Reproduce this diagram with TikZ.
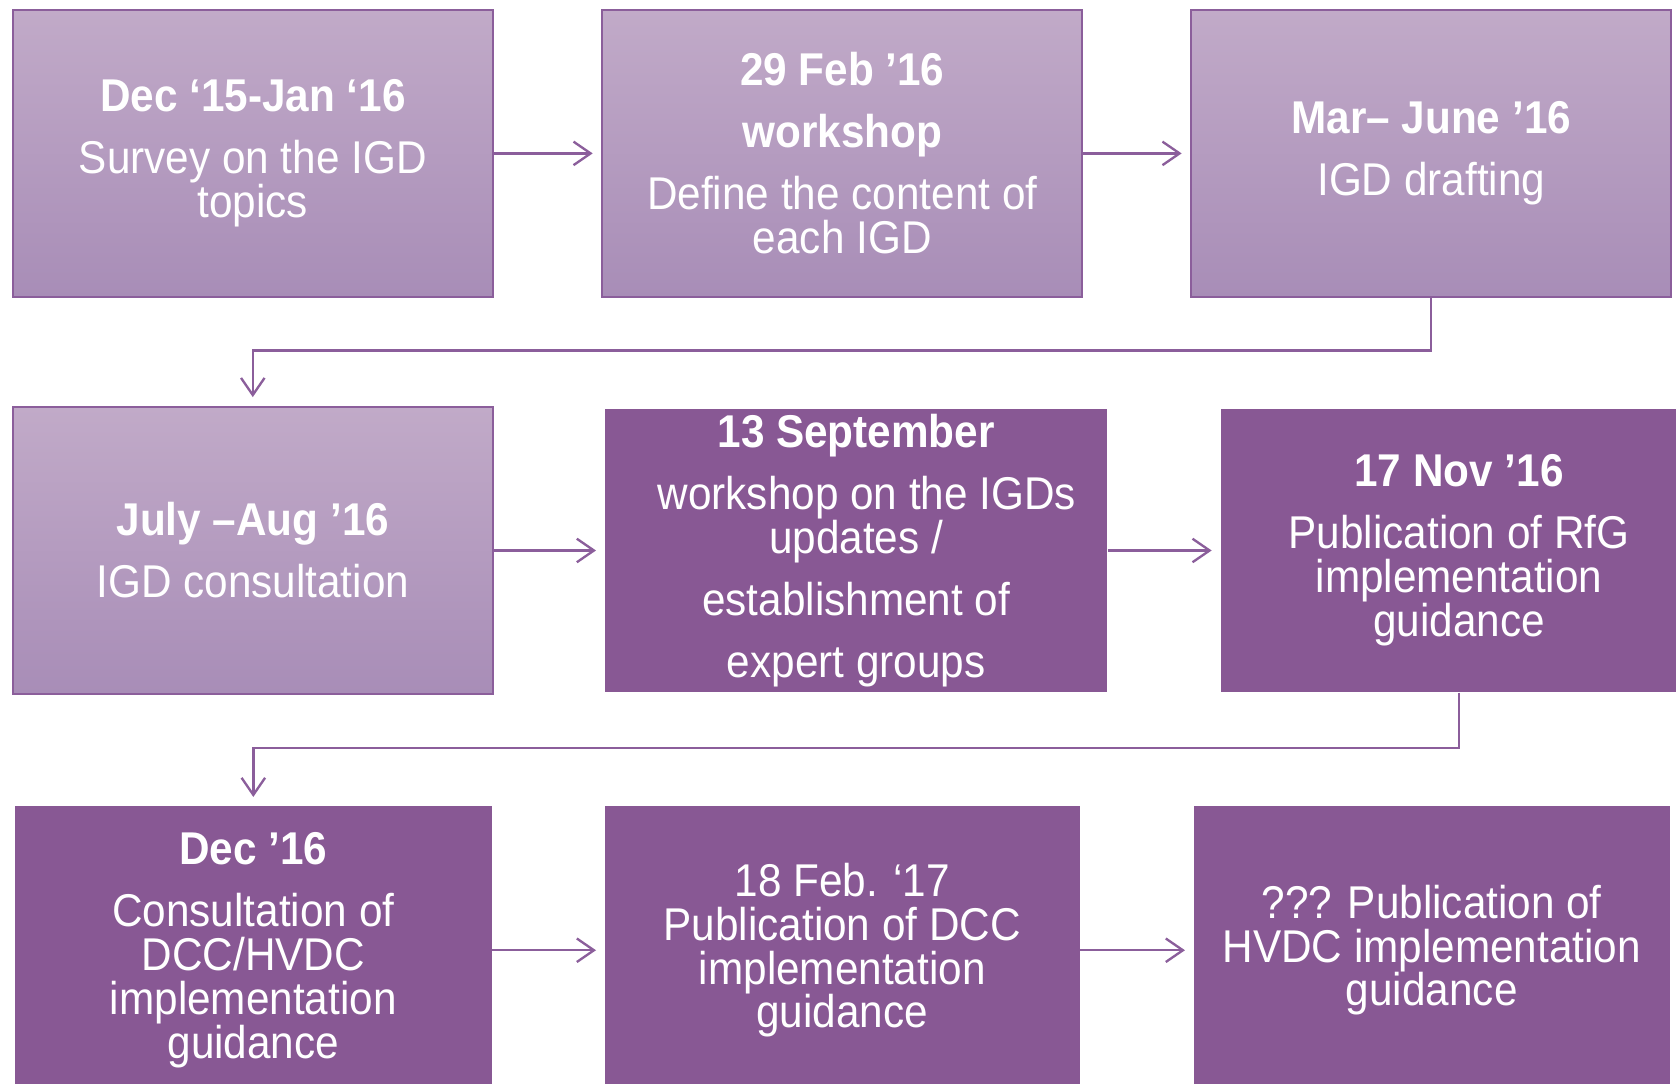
\documentclass[tikz,border=0pt]{standalone}
\usepackage{fontspec}
\setmainfont{Liberation Sans}[FakeStretch=0.92]
\usetikzlibrary{arrows.meta}
\definecolor{plum}{RGB}{136,88,148}
\definecolor{plumtop}{RGB}{193,170,200}
\definecolor{plumbot}{RGB}{168,141,183}
\definecolor{plumline}{RGB}{139,94,155}
\begin{document}
\begin{tikzpicture}[x=.5pt,y=-.5pt,
	box/.style={inner sep=0pt,align=center,text=white,font=\fontsize{21.5}{20.5}\selectfont},
	litebox/.style={box,draw=plumline,line width=1pt,top color=plumtop,bottom color=plumbot,minimum width=224.5pt,minimum height=134.5pt},
	darkbox/.style={box,fill=plum},
	link/.style={draw=plumline,line width=1.1pt,-{Straight Barb[length=8pt,width=11pt]},shorten >=4pt}]
			\useasboundingbox (0,0) rectangle (1568,1014);
			% first row
			\node[litebox] (b1) at (236.5,143.5) {\textbf{Dec ‘15-Jan ‘16}\\[8.5pt] Survey on the IGD\\topics};
			\node[litebox] (b2) at (788,143.5) {\textbf{29 Feb ’16}\\[8.5pt] \textbf{workshop}\\[8.5pt] Define the content of\\each IGD};
			\node[litebox] (b3) at (1339,143.5) {\textbf{Mar– June ’16}\\[8.5pt] IGD drafting};
			% second row
			\node[litebox] (b4) at (236.5,515) {\textbf{July –Aug ’16}\\[8.5pt] IGD consultation};
			\node[darkbox,minimum width=235pt,minimum height=132.5pt] (b5) at (801,515) {\textbf{13 September}\\[8.5pt] \hspace*{10pt}workshop on the IGDs\\updates /\\[8.5pt] establishment of\\[8.5pt] expert groups};
			\node[darkbox,minimum width=223pt,minimum height=132.5pt] (b6) at (1365,515) {\textbf{17 Nov ’16}\\[8.5pt] Publication of RfG\\implementation\\guidance};
			% third row
			\node[darkbox,minimum width=223pt,minimum height=135pt] (b7) at (237,889) {\textbf{Dec ’16}\\[8.5pt] Consultation of\\DCC/HVDC\\implementation\\guidance};
			\node[darkbox,minimum width=222pt,minimum height=135pt] (b8) at (788,889) {18 Feb. ‘17\\Publication of DCC\\implementation\\guidance};
			\node[darkbox,minimum width=222.5pt,minimum height=135pt] (b9) at (1339.5,889) {??? Publication of\\HVDC implementation\\guidance};
			% arrows
			\draw[link] (b1.east) -- (b2.west);
			\draw[link] (b2.east) -- (b3.west);
			\draw[link] (b3.south) -- ++(0,49) -| (b4.north);
			\draw[link] (b4.east) -- (b5.west);
			\draw[link] (b5.east) -- (b6.west);
			\draw[link] (b6.south) -- ++(0,52) -| (b7.north);
			\draw[link] (b7.east) -- (b8.west);
			\draw[link] (b8.east) -- (b9.west);
\end{tikzpicture}
\end{document}
